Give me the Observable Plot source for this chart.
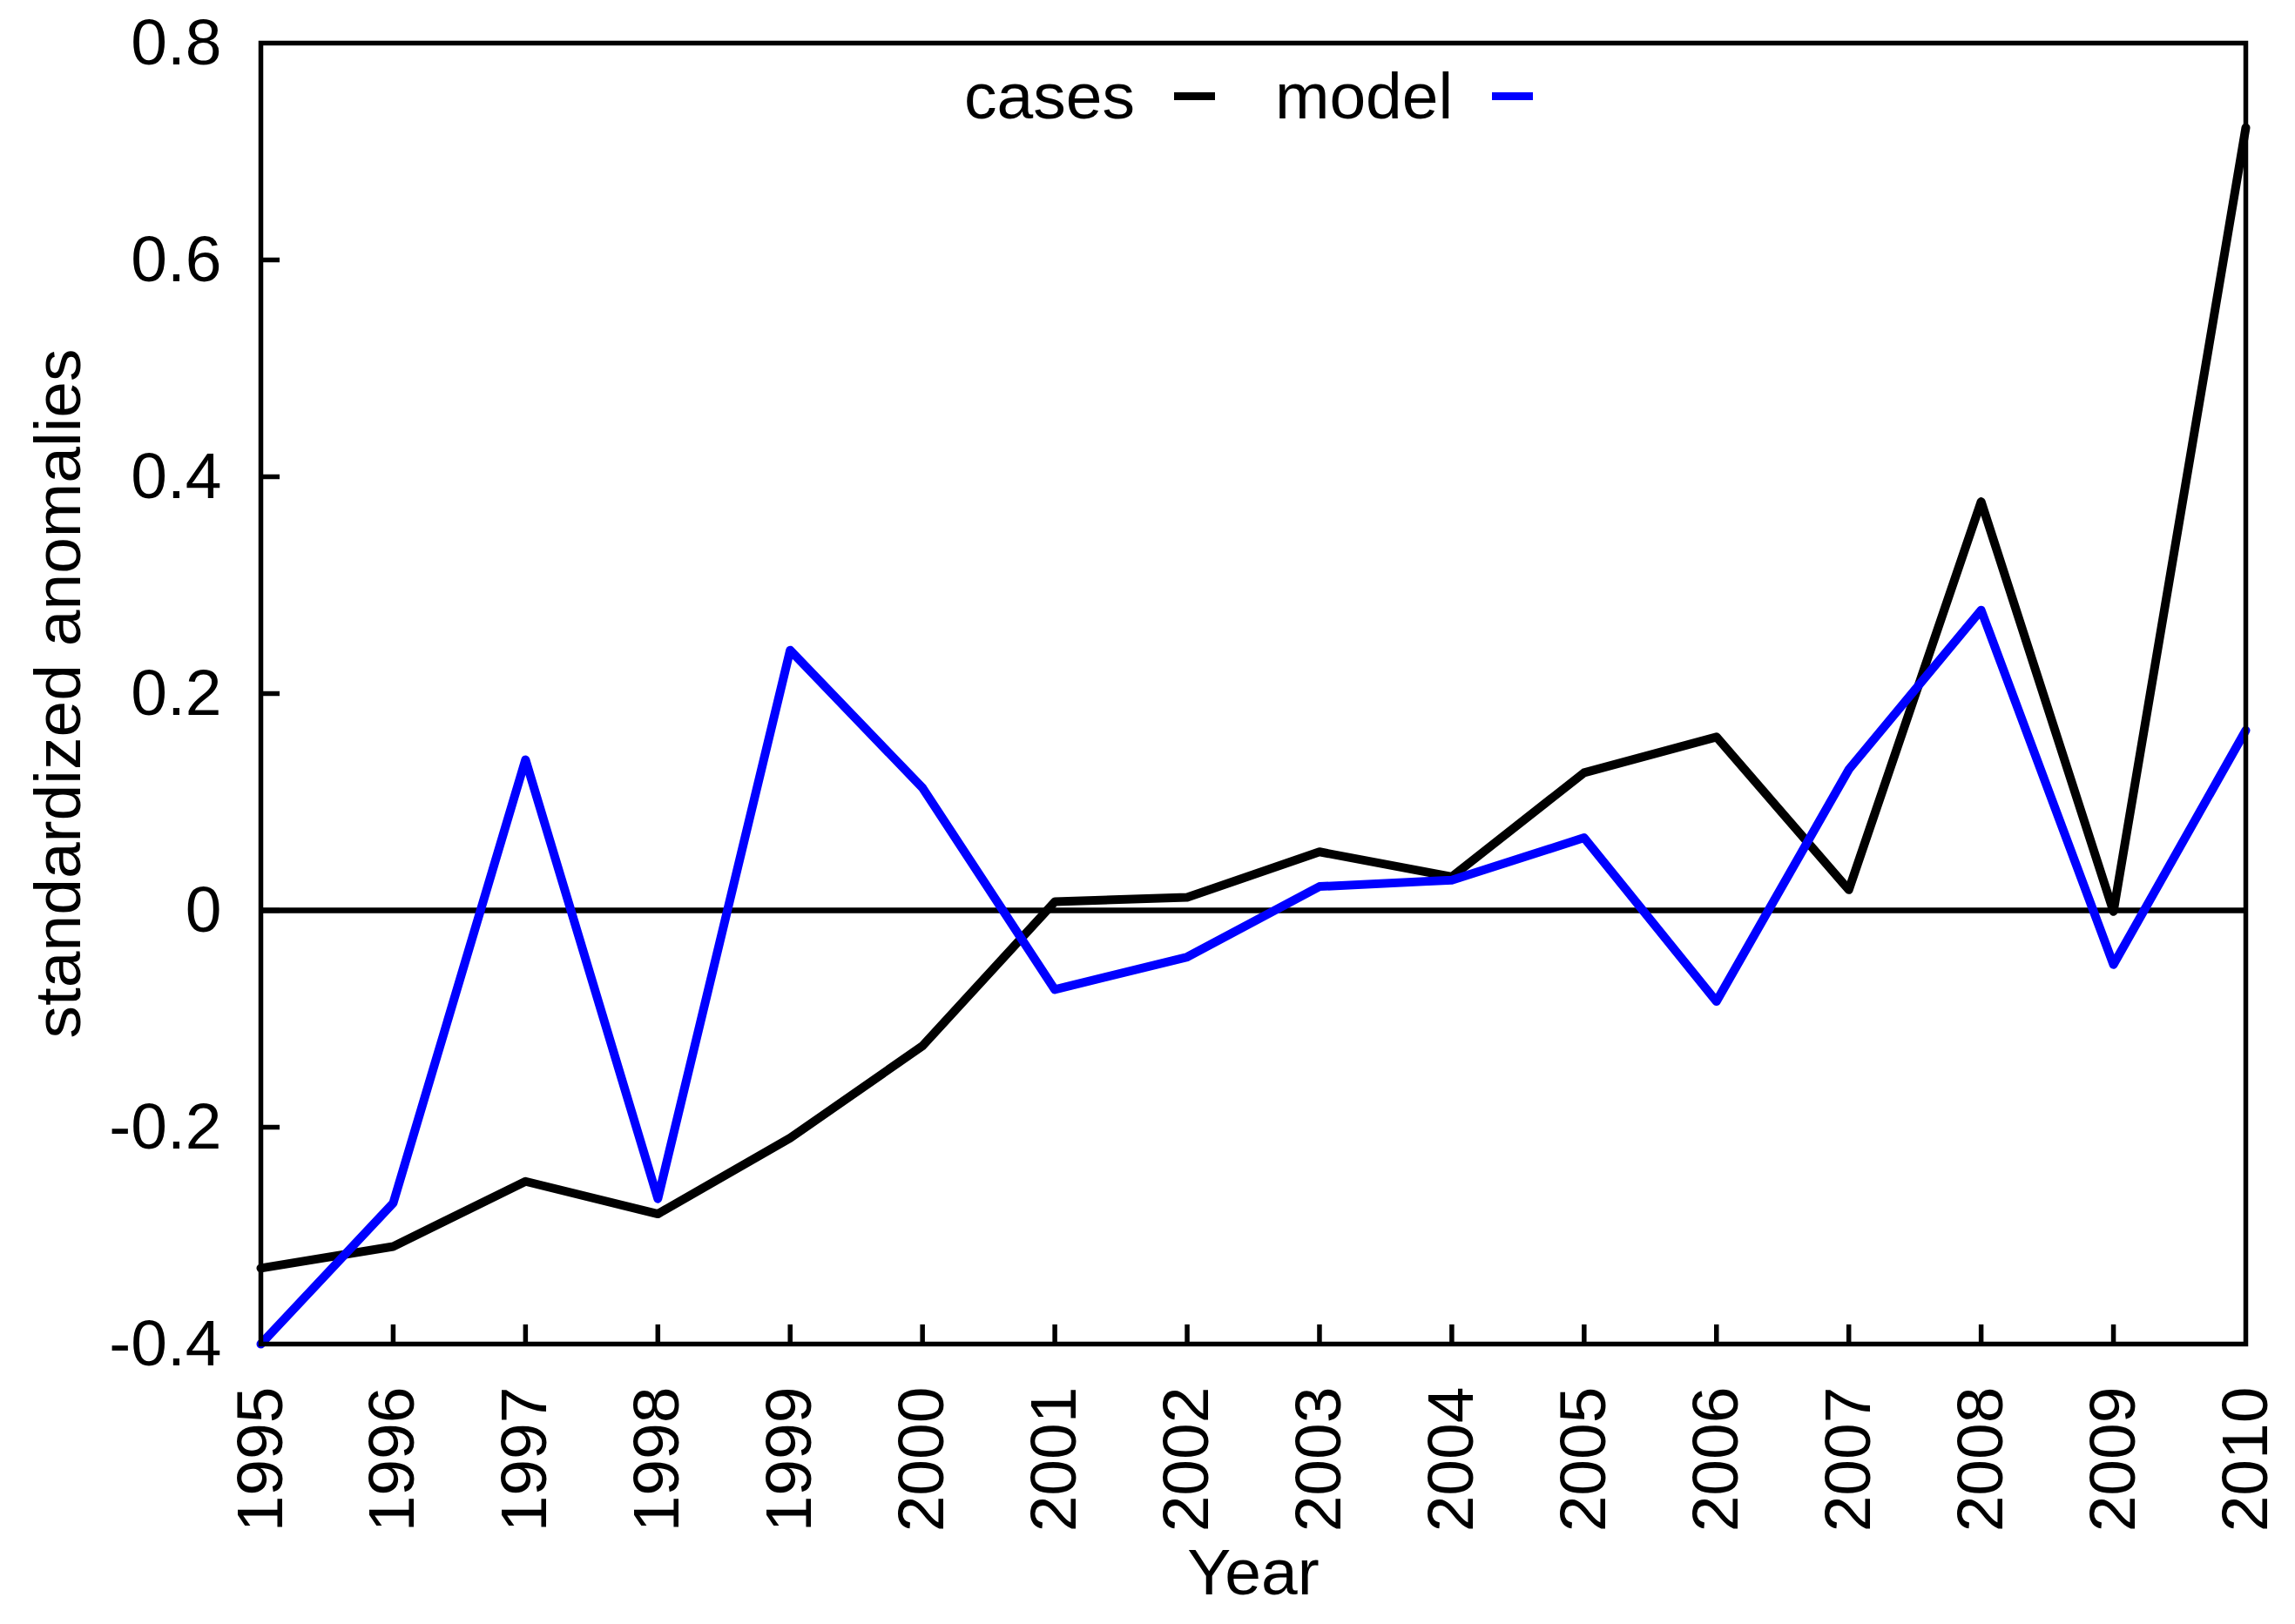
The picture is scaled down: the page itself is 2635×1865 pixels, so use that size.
<!DOCTYPE html>
<html>
<head>
<meta charset="utf-8">
<script src="https://cdn.jsdelivr.net/npm/d3@7"></script>
<script src="https://cdn.jsdelivr.net/npm/@observablehq/plot@0.6"></script>
<style>
  html, body { margin: 0; padding: 0; background: #ffffff; }
  #wrap { position: relative; width: 2635px; height: 1865px; font-family: "Liberation Sans", Arial, Helvetica, sans-serif; }
  #legend { position: absolute; top: 67px; left: 1107px; display: flex; align-items: center; font-size: 75px; line-height: 86px; color: #000; white-space: nowrap; }
  #legend .sw { display: inline-block; width: 47px; height: 9px; margin-left: 45px; }
  #legend .item + .item { margin-left: 69px; }
  #legend .item { display: flex; align-items: center; }
</style>
</head>
<body>
<div id="wrap">
  <div id="chart"></div>
  <div id="legend"></div>
</div>
<script>
const years = [1995, 1996, 1997, 1998, 1999, 2000, 2001, 2002, 2003, 2004, 2005, 2006, 2007, 2008, 2009, 2010];
const cases = [-0.33, -0.31, -0.25, -0.28, -0.21, -0.125, 0.008, 0.012, 0.054, 0.031, 0.127, 0.16, 0.019, 0.377, -0.001, 0.722];
const model = [-0.40, -0.27, 0.139, -0.266, 0.24, 0.113, -0.073, -0.043, 0.022, 0.028, 0.067, -0.084, 0.13, 0.277, -0.05, 0.166];
const seriesNames = ["cases", "model"];
const seriesColors = ["#000000", "#0000ff"];
const yTicks = [-0.4, -0.2, 0, 0.2, 0.4, 0.6, 0.8];
const yLabel = "standardized anomalies";
const xLabel = "Year";

const data = years.flatMap((yr, i) => [
  {year: yr, value: cases[i], series: seriesNames[0]},
  {year: yr, value: model[i], series: seriesNames[1]}
]);

const W = 2635, H = 1865;
const mL = 299, mR = 57, mT = 49, mB = 322;
const plotW = W - mL - mR, plotH = H - mT - mB;
const tickLen = 22;
const FS = 75;

const chart = Plot.plot({
  width: W,
  height: H,
  marginLeft: mL,
  marginRight: mR,
  marginTop: mT,
  marginBottom: mB,
  style: {fontFamily: "'Liberation Sans', Arial, Helvetica, sans-serif", fontSize: FS + "px", background: "#ffffff", color: "#000000"},
  x: {domain: [1995, 2010], label: null},
  y: {domain: [-0.4, 0.8], label: null},
  color: {domain: seriesNames, range: seriesColors},
  marks: [
    Plot.ruleY([0], {stroke: "#000", strokeWidth: 6.5}),
    Plot.line(data, {x: "year", y: "value", z: "series", stroke: "series", strokeWidth: 10}),
    Plot.tickX(years.slice(1, -1), {x: d => d, stroke: "#000", strokeWidth: 5.5, insetTop: plotH - tickLen}),
    Plot.tickY(yTicks.slice(1, -1), {y: d => d, stroke: "#000", strokeWidth: 5.5, insetRight: plotW - tickLen}),
    Plot.frame({stroke: "#000", strokeWidth: 5.5}),
    Plot.axisX({ticks: years, tickSize: 0, tickPadding: 49, tickRotate: -90, tickFormat: d => String(d), fontSize: FS, label: null}),
    Plot.axisY({ticks: yTicks, tickSize: 0, tickPadding: 45, tickFormat: d => d === 0 ? "0" : d.toFixed(1), fontSize: FS, label: null}),
    Plot.text([yLabel], {text: d => d, frameAnchor: "left", rotate: -90, dx: -232, textAnchor: "middle", lineAnchor: "middle", fontSize: FS}),
    Plot.text([xLabel], {text: d => d, frameAnchor: "bottom", dy: 263, textAnchor: "middle", lineAnchor: "middle", fontSize: FS})
  ]
});
document.getElementById("chart").appendChild(chart);

const legend = document.getElementById("legend");
seriesNames.forEach((name, i) => {
  const item = document.createElement("div");
  item.className = "item";
  const label = document.createElement("span");
  label.textContent = name;
  const sw = document.createElement("span");
  sw.className = "sw";
  sw.style.background = seriesColors[i];
  item.appendChild(label);
  item.appendChild(sw);
  legend.appendChild(item);
});
</script>
</body>
</html>
